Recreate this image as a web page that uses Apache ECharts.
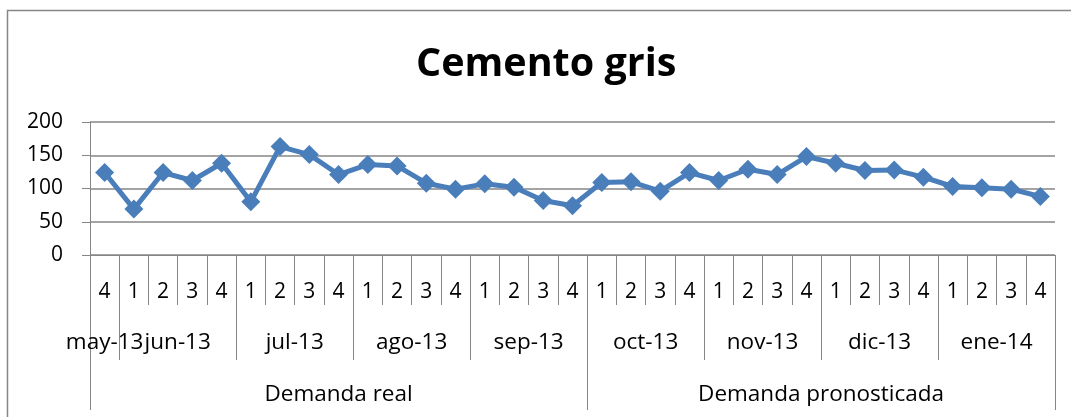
<!DOCTYPE html>
<html>
<head>
<meta charset="utf-8">
<script src="https://cdn.jsdelivr.net/npm/echarts@6/dist/echarts.min.js"></script>
<style>
  html, body { margin: 0; padding: 0; background: #fff; }
  #chart { width: 1071px; height: 417px; }
</style>
</head>
<body>
<div id="chart"></div>
<script>
// ---- Data ----
const weeks = ['4',
  '1','2','3','4', '1','2','3','4', '1','2','3','4', '1','2','3','4',
  '1','2','3','4', '1','2','3','4', '1','2','3','4', '1','2','3','4'];
const months = ['may-13','jun-13','jul-13','ago-13','sep-13','oct-13','nov-13','dic-13','ene-14'];
const monthWeeks = [1, 4, 4, 4, 4, 4, 4, 4, 4];
const groups = ['Demanda real', 'Demanda pronosticada'];
const groupWeeks = [17, 16];
const demand = [124, 69, 124, 112, 138, 80, 163, 151, 121, 136, 134, 108, 99, 107, 102, 82, 74,
                109, 110, 96, 124, 112, 129, 121, 148, 138, 127, 128, 117, 103, 101, 99, 88];
const yMin = 0, yMax = 200, yStep = 50;
const titleText = 'Cemento gris';

// Build half-week level axes (labels at span centres, ticks at span boundaries)
function buildLevel(names, counts) {
  const total = counts.reduce((a, b) => a + b, 0);
  const n = total * 2 + 1;
  const labels = new Array(n).fill('');
  const bounds = new Set([0]);
  let pos = 0;
  names.forEach((nm, i) => {
    labels[pos + counts[i]] = nm;
    pos += counts[i] * 2;
    bounds.add(pos);
  });
  const keys = labels.map((_, i) => 'k' + i);
  return { labels, bounds, keys };
}
const monthLevel = buildLevel(months, monthWeeks);
const groupLevel = buildLevel(groups, groupWeeks);

const FONT = '"Open Sans", "Liberation Sans", sans-serif';
const GRAY = '#868686';
const BLUE = '#4a7ebb';

const chart = echarts.init(document.getElementById('chart'), null, { renderer: 'canvas' });

function levelAxis(level, tickLen, margin) {
  return {
    type: 'category',
    gridIndex: 0,
    position: 'bottom',
    data: level.keys,
    boundaryGap: false,
    axisLine: { show: false },
    axisTick: {
      show: true,
      length: tickLen,
      interval: (idx) => level.bounds.has(idx),
      lineStyle: { color: GRAY, width: 1 }
    },
    axisLabel: {
      show: true,
      interval: (idx) => level.labels[idx] !== '',
      formatter: (v, idx) => level.labels[idx],
      margin: margin,
      color: '#000',
      fontFamily: FONT,
      fontSize: 22.5
    },
    splitLine: { show: false }
  };
}

chart.setOption({
  animation: false,
  backgroundColor: '#fff',
  title: {
    text: titleText,
    left: 411,
    top: 40,
    textStyle: { fontFamily: FONT, fontSize: 39.5, fontWeight: 'bold', color: '#000' }
  },
  graphic: [{
    type: 'rect',
    shape: { x: 7.5, y: 10.5, width: 2000, height: 2000 },
    style: { fill: null, stroke: GRAY, lineWidth: 1.5 },
    silent: true
  }],
  grid: { left: 90, right: 16, top: 122, bottom: 162, containLabel: false },
  xAxis: [
    {
      type: 'category',
      gridIndex: 0,
      position: 'bottom',
      data: weeks.map((w, i) => i),
      boundaryGap: true,
      axisLine: { show: true, lineStyle: { color: GRAY, width: 1 } },
      axisTick: { show: true, interval: 0, length: 50, alignWithLabel: false, lineStyle: { color: GRAY, width: 1 } },
      axisLabel: {
        interval: 0,
        formatter: (v, idx) => weeks[idx],
        margin: 27,
        color: '#000',
        fontFamily: FONT,
        fontSize: 21
      },
      splitLine: { show: false }
    },
    levelAxis(monthLevel, 105, 76),
    levelAxis(groupLevel, 155, 128)
  ],
  yAxis: {
    type: 'value',
    min: yMin,
    max: yMax,
    interval: yStep,
    axisLine: { show: true, lineStyle: { color: GRAY, width: 1 } },
    axisTick: { show: true, length: 8, lineStyle: { color: GRAY, width: 1 } },
    axisLabel: { margin: 27, color: '#000', fontFamily: FONT, fontSize: 21 },
    splitLine: { show: true, lineStyle: { color: GRAY, width: 1.5 } }
  },
  series: [{
    type: 'line',
    xAxisIndex: 0,
    yAxisIndex: 0,
    data: demand,
    symbol: 'diamond',
    symbolSize: 19,
    lineStyle: { color: BLUE, width: 5 },
    itemStyle: { color: BLUE },
    z: 5
  }]
});
</script>
</body>
</html>
